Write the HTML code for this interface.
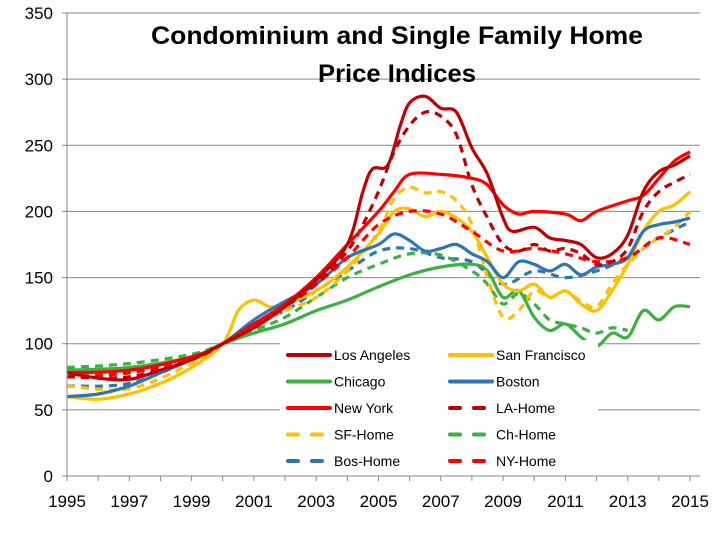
<!DOCTYPE html>
<html><head><meta charset="utf-8"><style>
body{margin:0;background:#fff}
svg text{font-family:"Liberation Sans",sans-serif}
</style></head><body>
<svg id="c" width="716" height="529" xmlns="http://www.w3.org/2000/svg">
<rect width="716" height="529" fill="#fff"/>
<g id="grid" stroke="#888" stroke-width="1"></g>
<g id="lines" fill="none" stroke-linejoin="round" stroke-linecap="butt"></g>
<rect x="280" y="340" width="318" height="134" fill="#fff"/>
<g id="axes"></g>
<text x="397" y="44" font-size="25" font-weight="bold" text-anchor="middle" textLength="492" lengthAdjust="spacingAndGlyphs">Condominium and Single Family Home</text>
<text x="397" y="82" font-size="25" font-weight="bold" text-anchor="middle" textLength="158" lengthAdjust="spacingAndGlyphs">Price Indices</text>
<g id="leg" font-size="14"></g>
</svg>
<script>
const X=y=>67+(y-1995)*31.15, Y=v=>476-v*1.3229;
const NS="http://www.w3.org/2000/svg";
function el(p,t,a,txt){const e=document.createElementNS(NS,t);for(const k in a)e.setAttribute(k,a[k]);if(txt)e.textContent=txt;document.getElementById(p).appendChild(e);return e;}
for(let v=50;v<=350;v+=50)el("grid","line",{x1:67,x2:700,y1:Y(v),y2:Y(v)});
el("axes","line",{x1:67,x2:67,y1:13,y2:476,stroke:"#888"});
el("axes","line",{x1:67,x2:700,y1:476,y2:476,stroke:"#888"});
for(let v=0;v<=350;v+=50){el("axes","line",{x1:62,x2:67,y1:Y(v),y2:Y(v),stroke:"#888"});el("axes","text",{x:53,y:Y(v)+6,"font-size":17,"text-anchor":"end"},String(v));}
for(let y=1995;y<=2015;y+=2){el("axes","text",{x:X(y),y:507,"font-size":17,"text-anchor":"middle"},String(y));}
for(let y=1995;y<=2015;y++)el("axes","line",{x1:X(y),x2:X(y),y1:476,y2:481,stroke:"#888"});
const S=[
["#2e75b6","8 6",[[1995,68],[1997,70],[1999,88],[2000,100],[2001,115],[2002,125],[2003,140],[2004,155],[2005,170],[2006,172],[2007,165],[2008,162],[2009,145],[2010,155],[2011,150],[2012,155],[2013,165],[2014,180],[2015,192]]],
["#3cb043","8 6",[[1995,82],[1997,85],[1999,92],[2000,100],[2001,110],[2002,120],[2003,135],[2004,150],[2005,160],[2006,168],[2007,167],[2008,155],[2008.5,145],[2009,130],[2009.5,138],[2010,130],[2010.5,118],[2011,115],[2011.5,112],[2012,108],[2012.5,112],[2013,110]]],
["#3cb043","",[[1995,80],[1997,82],[1999,90],[2000,100],[2001,108],[2002,115],[2003,125],[2004,133],[2005,143],[2006,152],[2007,158],[2008,160],[2008.5,155],[2009,135],[2009.5,140],[2010,120],[2010.5,110],[2011,115],[2011.5,105],[2012,98],[2012.5,108],[2013,105],[2013.5,125],[2014,118],[2014.5,128],[2015,128]]],
["#ffc000","8 6",[[1995,68],[1997,66],[1999,85],[2000,100],[2001,115],[2002,125],[2003,135],[2004,155],[2005,185],[2005.5,210],[2006,218],[2006.5,214],[2007,215],[2007.5,208],[2008,190],[2008.5,150],[2009,120],[2009.5,125],[2010,140],[2010.5,135],[2011,140],[2011.5,132],[2012,128],[2012.5,145],[2013,160],[2013.5,172],[2014,180],[2014.5,188],[2015,200]]],
["#ffc000","",[[1995,60],[1996,58],[1997,62],[1998,70],[1999,82],[2000,100],[2000.5,125],[2001,133],[2001.5,128],[2002,130],[2003,140],[2004,158],[2005,183],[2005.5,200],[2006,202],[2006.5,196],[2007,200],[2007.5,195],[2008,185],[2008.5,165],[2009,145],[2009.5,140],[2010,145],[2010.5,135],[2011,140],[2011.5,130],[2012,125],[2012.5,140],[2013,160],[2013.5,185],[2014,200],[2014.5,205],[2015,215]]],
["#2e75b6","",[[1995,60],[1996,62],[1997,68],[1998,78],[1999,88],[2000,100],[2001,118],[2002,132],[2003,145],[2004,165],[2005,175],[2005.5,183],[2006,178],[2006.5,170],[2007,172],[2007.5,175],[2008,168],[2008.5,162],[2009,150],[2009.5,162],[2010,160],[2010.5,155],[2011,160],[2011.5,152],[2012,158],[2012.5,160],[2013,165],[2013.5,185],[2014,190],[2014.5,192],[2015,195]]],
["#ff0000","8 6",[[1995,75],[1997,78],[1999,88],[2000,100],[2001,112],[2002,128],[2003,145],[2004,165],[2005,190],[2006,200],[2007,198],[2008,185],[2009,170],[2010,172],[2011,168],[2012,162],[2013,165],[2014,180],[2015,175]]],
["#c00000","8 6",[[1995,75],[1997,75],[1999,88],[2000,100],[2001,115],[2002,128],[2003,145],[2004,170],[2004.5,190],[2005,215],[2005.5,245],[2006,265],[2006.5,275],[2007,272],[2007.5,258],[2008,220],[2008.5,195],[2009,175],[2009.5,170],[2010,175],[2010.5,170],[2011,172],[2011.5,168],[2012,160],[2012.5,162],[2013,172],[2013.5,200],[2014,215],[2014.5,222],[2015,228]]],
["#ff0000","",[[1995,78],[1997,80],[1999,90],[2000,100],[2001,115],[2002,130],[2003,150],[2004,175],[2005,200],[2005.5,215],[2006,228],[2007,228],[2008,225],[2008.5,220],[2009,205],[2009.5,198],[2010,200],[2011,198],[2011.5,193],[2012,200],[2013,208],[2013.5,212],[2014,225],[2014.5,238],[2015,245]]],
["#c00000","",[[1995,78],[1996,74],[1997,73],[1998,80],[1999,88],[2000,100],[2001,112],[2002,128],[2003,148],[2004,175],[2004.5,215],[2004.8,232],[2005.3,235],[2005.7,265],[2006,282],[2006.5,287],[2007,278],[2007.5,275],[2008,248],[2008.5,228],[2009,195],[2009.3,185],[2010,188],[2010.5,180],[2011,178],[2011.5,175],[2012,165],[2012.5,168],[2013,182],[2013.5,215],[2014,230],[2014.5,235],[2015,242]]]
];
function smooth(p){const P=p.map(q=>[X(q[0]),Y(q[1])]);let d="M"+P[0][0].toFixed(1)+","+P[0][1].toFixed(1);
for(let i=0;i<P.length-1;i++){const p0=P[Math.max(0,i-1)],p1=P[i],p2=P[i+1],p3=P[Math.min(P.length-1,i+2)],t=6;
const c1=[p1[0]+(p2[0]-p0[0])/t,p1[1]+(p2[1]-p0[1])/t],c2=[p2[0]-(p3[0]-p1[0])/t,p2[1]-(p3[1]-p1[1])/t];
d+="C"+c1.map(v=>v.toFixed(1))+" "+c2.map(v=>v.toFixed(1))+" "+p2.map(v=>v.toFixed(1));}return d;}
for(const [c,d,p] of S){const a={d:smooth(p),stroke:c,"stroke-width":3.2};if(d)a["stroke-dasharray"]=d;el("lines","path",a);}
const L=[["Los Angeles","#c00000",0],["San Francisco","#ffc000",0],["Chicago","#3cb043",0],["Boston","#2e75b6",0],["New York","#ff0000",0],["LA-Home","#c00000",1],["SF-Home","#ffc000",1],["Ch-Home","#3cb043",1],["Bos-Home","#2e75b6",1],["NY-Home","#ff0000",1]];
L.forEach((l,i)=>{const col=i%2,row=Math.floor(i/2);const x=col?450:288,y=355+row*26.5;
const a={x1:x,x2:x+42,y1:y,y2:y,stroke:l[1],"stroke-width":4,"stroke-linecap":"round"};if(l[2])a["stroke-dasharray"]="10 14";el("leg","line",a);
el("leg","text",{x:x+46,y:y+5},l[0]);});
</script>
</body></html>
